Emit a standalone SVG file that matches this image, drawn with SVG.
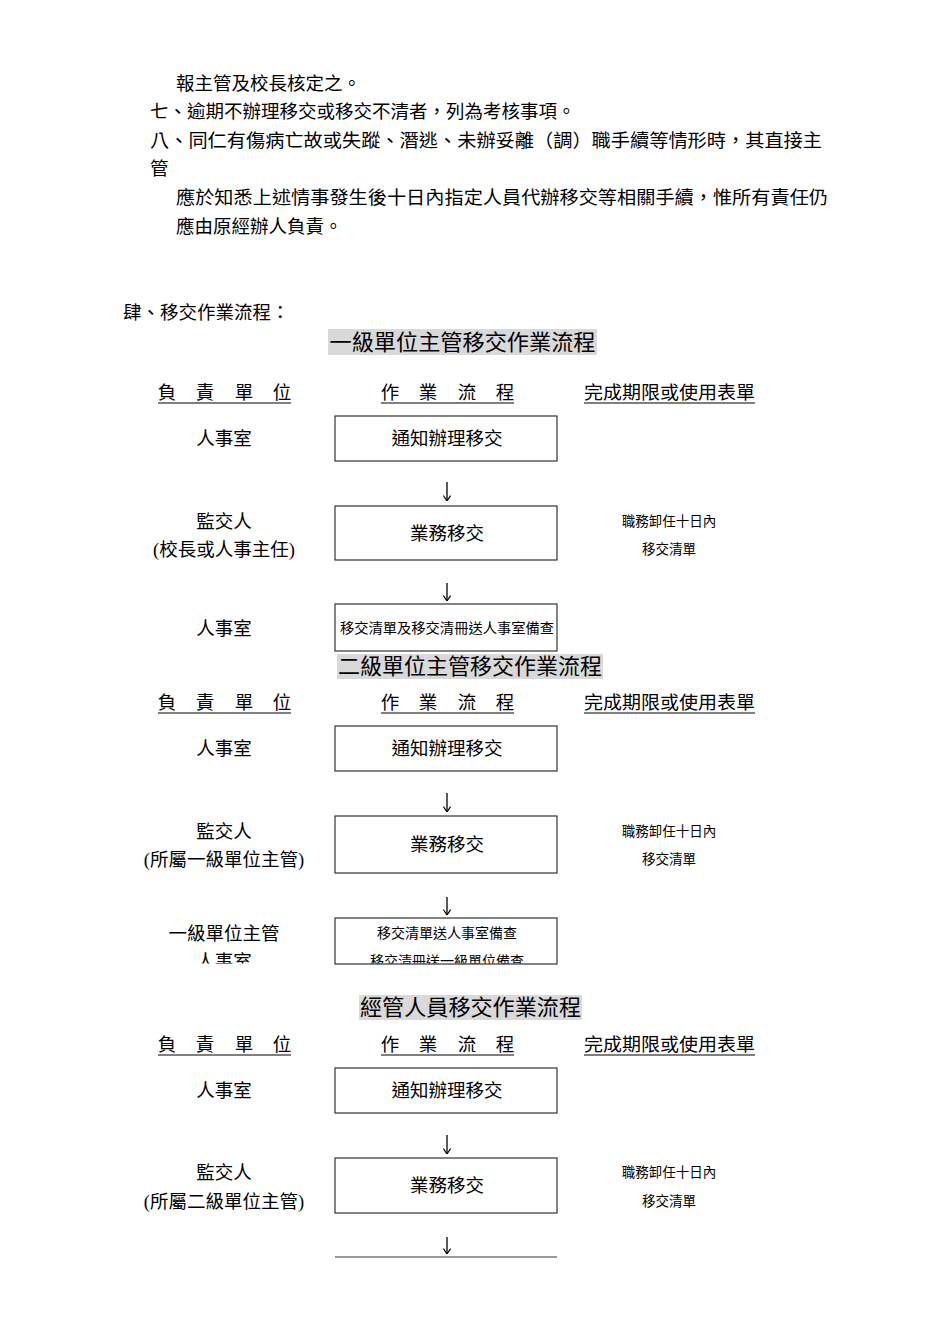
<svg xmlns="http://www.w3.org/2000/svg" width="950" height="1344" viewBox="0 0 950 1344">
<style>
text{font-family:"Liberation Serif","Noto Sans CJK TC",serif;fill:#000}
.p{font-size:18.5px}
.t{font-size:22px;text-anchor:middle}
.h{font-size:18.5px;text-anchor:middle}
.l{font-size:18.5px;text-anchor:middle}
.b{font-size:18.5px;text-anchor:middle}
.s{font-size:13.5px;text-anchor:middle}
.bs{font-size:14px;text-anchor:middle}
.box{fill:#fff;stroke:#333;stroke-width:1.2}
.ul{stroke:#000;stroke-width:1}
.bg{fill:#d9d9d9}
.c{stroke:#000;stroke-width:1.3;fill:none}
</style>
<defs>
<marker id="ah" viewBox="0 0 10 10" refX="10" refY="5" markerWidth="9" markerHeight="9" markerUnits="userSpaceOnUse" orient="auto">
<path d="M4,1 L10,5 L4,9" fill="none" stroke="#000" stroke-width="1.3"/>
</marker>
<clipPath id="cut"><rect x="0" y="0" width="950" height="963.5"/></clipPath>
</defs>
<rect width="950" height="1344" fill="#fff"/>

<g id="intro">
<text class="p" x="176" y="90">報主管及校長核定之。</text>
<text class="p" x="150" y="118">七、逾期不辦理移交或移交不清者，列為考核事項。</text>
<text class="p" x="150" y="147" textLength="672" lengthAdjust="spacingAndGlyphs">八、同仁有傷病亡故或失蹤、潛逃、未辦妥離（調）職手續等情形時，其直接主</text>
<text class="p" x="150" y="175">管</text>
<text class="p" x="176" y="204" textLength="652" lengthAdjust="spacingAndGlyphs">應於知悉上述情事發生後十日內指定人員代辦移交等相關手續，惟所有責任仍</text>
<text class="p" x="176" y="233">應由原經辦人負責。</text>
<text class="p" x="123" y="319">肆、移交作業流程：</text>
</g>

<!-- Section 1 -->
<g id="title1">
<rect class="bg" x="328" y="329" width="269" height="26"/>
<text class="t" x="462.5" y="350" textLength="266" lengthAdjust="spacingAndGlyphs">一級單位主管移交作業流程</text>
</g>
<g id="header1">
<text class="h" x="167" y="399">負</text><text class="h" x="205" y="399">責</text><text class="h" x="244" y="399">單</text><text class="h" x="282" y="399">位</text>
<line class="ul" x1="158" y1="403" x2="291" y2="403"/>
<text class="h" x="390" y="399">作</text><text class="h" x="428" y="399">業</text><text class="h" x="467" y="399">流</text><text class="h" x="505" y="399">程</text>
<line class="ul" x1="381" y1="403" x2="514" y2="403"/>
<text class="h" x="669.5" y="399" textLength="171" lengthAdjust="spacingAndGlyphs">完成期限或使用表單</text>
<line class="ul" x1="584" y1="403" x2="755" y2="403"/>
</g>
<g id="s1-unit1"><text class="l" x="224" y="445">人事室</text></g>
<g id="s1-step1"><rect class="box" x="335" y="416" width="222" height="45"/><text class="b" x="447" y="445">通知辦理移交</text></g>
<g id="s1-unit2"><text class="l" x="224" y="528">監交人</text><text class="l" x="224" y="556">(校長或人事主任)</text></g>
<g id="s1-step2"><rect class="box" x="335" y="506" width="222" height="54"/><text class="b" x="447" y="540">業務移交</text></g>
<g id="s1-note2"><text class="s" x="669" y="526">職務卸任十日內</text><text class="s" x="669" y="554">移交清單</text></g>
<g id="s1-unit3"><text class="l" x="224" y="635">人事室</text></g>
<g id="s1-step3"><rect class="box" x="335" y="604" width="222" height="47"/><text class="bs" x="447" y="633" textLength="214" lengthAdjust="spacingAndGlyphs">移交清單及移交清冊送人事室備查</text></g>

<!-- Section 2 -->
<g id="title2">
<rect class="bg" x="337" y="654" width="266" height="25"/>
<text class="t" x="470" y="674" textLength="264" lengthAdjust="spacingAndGlyphs">二級單位主管移交作業流程</text>
</g>
<g id="header2">
<text class="h" x="167" y="709">負</text><text class="h" x="205" y="709">責</text><text class="h" x="244" y="709">單</text><text class="h" x="282" y="709">位</text>
<line class="ul" x1="158" y1="713" x2="291" y2="713"/>
<text class="h" x="390" y="709">作</text><text class="h" x="428" y="709">業</text><text class="h" x="467" y="709">流</text><text class="h" x="505" y="709">程</text>
<line class="ul" x1="381" y1="713" x2="514" y2="713"/>
<text class="h" x="669.5" y="709" textLength="171" lengthAdjust="spacingAndGlyphs">完成期限或使用表單</text>
<line class="ul" x1="584" y1="713" x2="755" y2="713"/>
</g>
<g id="s2-unit1"><text class="l" x="224" y="755">人事室</text></g>
<g id="s2-step1"><rect class="box" x="335" y="726" width="222" height="45"/><text class="b" x="447" y="755">通知辦理移交</text></g>
<g id="s2-unit2"><text class="l" x="224" y="838">監交人</text><text class="l" x="224" y="866">(所屬一級單位主管)</text></g>
<g id="s2-step2"><rect class="box" x="335" y="816" width="222" height="57"/><text class="b" x="447" y="851">業務移交</text></g>
<g id="s2-note2"><text class="s" x="669" y="836">職務卸任十日內</text><text class="s" x="669" y="864">移交清單</text></g>
<g id="s2-unit3" clip-path="url(#cut)"><text class="l" x="224" y="940">一級單位主管</text><text class="l" x="224" y="968">人事室</text></g>
<g id="s2-step3"><rect class="box" x="335" y="918" width="222" height="46"/>
<g clip-path="url(#cut)"><text class="bs" x="447" y="938">移交清單送人事室備查</text><text class="bs" x="447" y="966">移交清冊送一級單位備查</text></g></g>

<!-- Section 3 -->
<g id="title3">
<rect class="bg" x="359" y="995" width="223" height="25"/>
<text class="t" x="470.5" y="1015" textLength="221" lengthAdjust="spacingAndGlyphs">經管人員移交作業流程</text>
</g>
<g id="header3">
<text class="h" x="167" y="1051">負</text><text class="h" x="205" y="1051">責</text><text class="h" x="244" y="1051">單</text><text class="h" x="282" y="1051">位</text>
<line class="ul" x1="158" y1="1055" x2="291" y2="1055"/>
<text class="h" x="390" y="1051">作</text><text class="h" x="428" y="1051">業</text><text class="h" x="467" y="1051">流</text><text class="h" x="505" y="1051">程</text>
<line class="ul" x1="381" y1="1055" x2="514" y2="1055"/>
<text class="h" x="669.5" y="1051" textLength="171" lengthAdjust="spacingAndGlyphs">完成期限或使用表單</text>
<line class="ul" x1="584" y1="1055" x2="755" y2="1055"/>
</g>
<g id="s3-unit1"><text class="l" x="224" y="1097">人事室</text></g>
<g id="s3-step1"><rect class="box" x="335" y="1068" width="222" height="45"/><text class="b" x="447" y="1097">通知辦理移交</text></g>
<g id="s3-unit2"><text class="l" x="224" y="1179">監交人</text><text class="l" x="224" y="1208">(所屬二級單位主管)</text></g>
<g id="s3-step2"><rect class="box" x="335" y="1158" width="222" height="55"/><text class="b" x="447" y="1192">業務移交</text></g>
<g id="s3-note2"><text class="s" x="669" y="1177">職務卸任十日內</text><text class="s" x="669" y="1206">移交清單</text></g>
<g id="s3-step3"><line x1="335" y1="1257" x2="557" y2="1257" stroke="#333" stroke-width="1.2"/></g>

<g id="connectors">
<path class="c" d="M447,482 V501" marker-end="url(#ah)"/>
<path class="c" d="M447,583 V601" marker-end="url(#ah)"/>
<path class="c" d="M447,793 V812" marker-end="url(#ah)"/>
<path class="c" d="M447,897 V915" marker-end="url(#ah)"/>
<path class="c" d="M447,1135 V1154" marker-end="url(#ah)"/>
<path class="c" d="M447,1237 V1254" marker-end="url(#ah)"/>
</g>
</svg>
